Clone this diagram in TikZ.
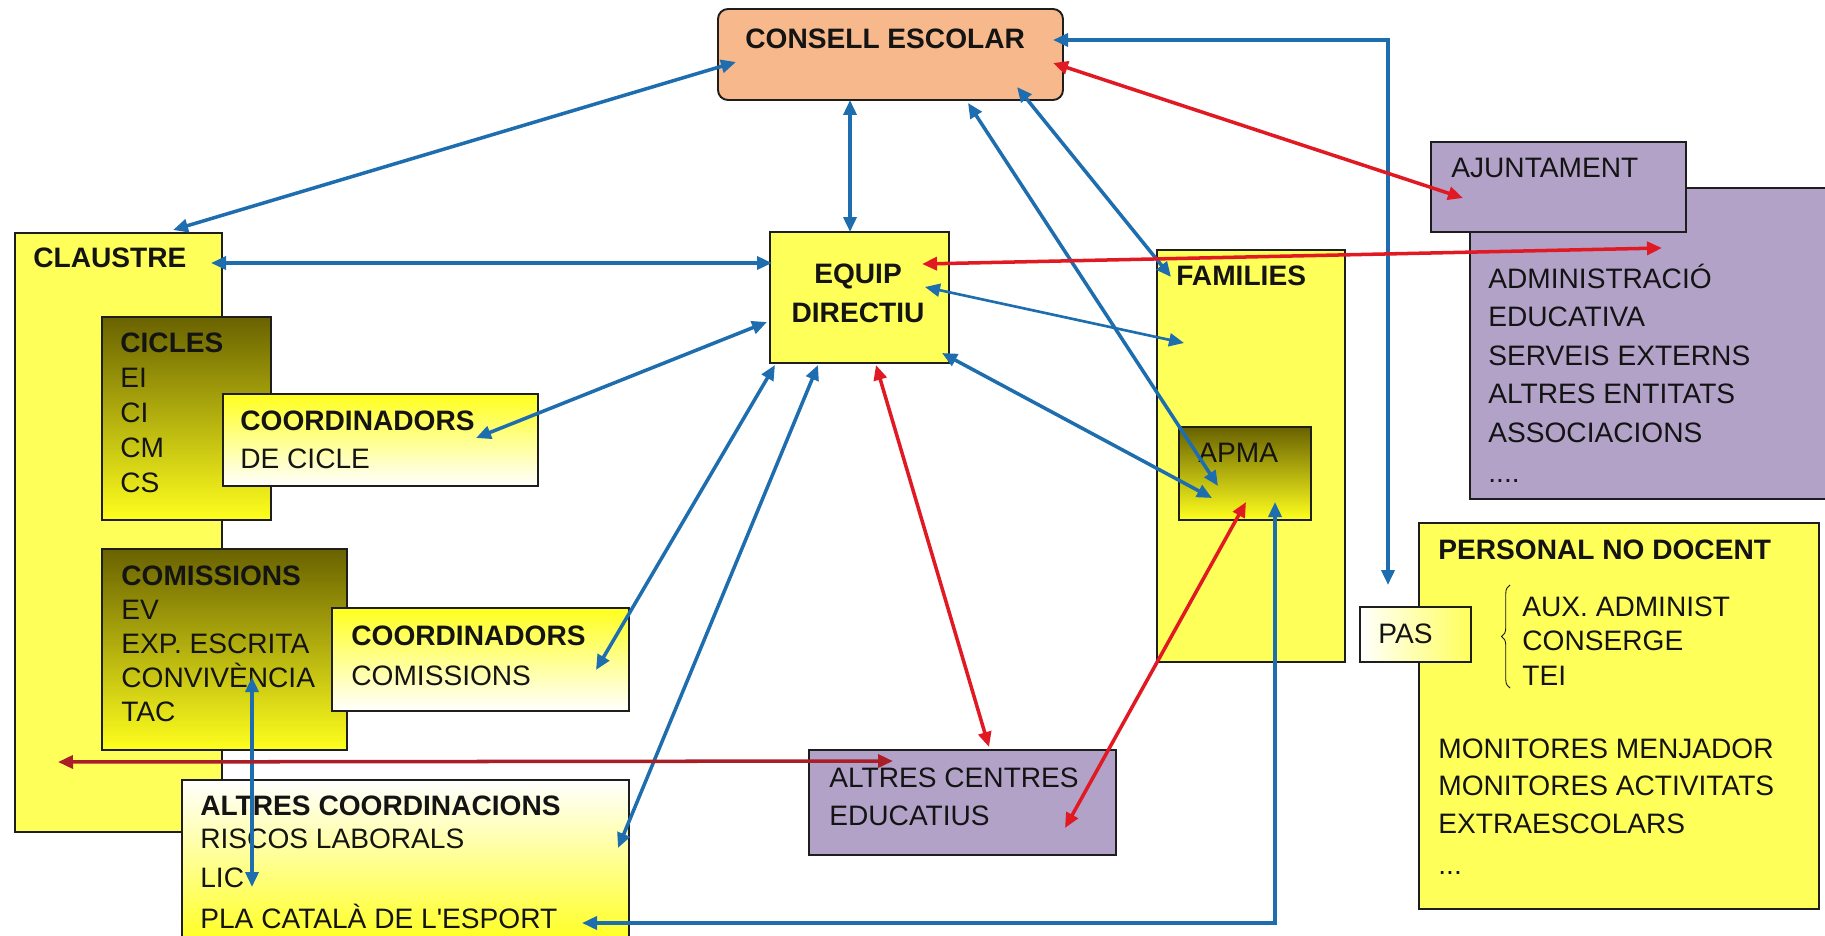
\documentclass[tikz,border=0pt]{standalone}
\usepackage{fontspec}
\setmainfont{Liberation Sans}
\usetikzlibrary{arrows.meta,fit,decorations.pathreplacing}
\definecolor{yel}{RGB}{255,255,90}
\definecolor{yelb}{RGB}{255,255,30}
\definecolor{olv}{RGB}{105,98,0}
\definecolor{lav}{RGB}{178,162,200}
\definecolor{salm}{RGB}{247,185,140}
\definecolor{bluec}{RGB}{30,110,175}
\definecolor{redc}{RGB}{225,25,35}
\definecolor{dredc}{RGB}{170,30,40}
\definecolor{edge}{RGB}{30,30,30}
\definecolor{ink}{RGB}{20,20,20}
\begin{document}
\begin{tikzpicture}[x=0.02cm,y=-0.02cm,
  box/.style={draw=edge, line width=1.1pt, inner sep=0pt, outer sep=0pt},
  txt/.style={inner sep=0pt, anchor=base west, text=ink, font=\fontsize{16}{19}\selectfont},
  btxt/.style={txt, font=\fontsize{16}{19}\selectfont\bfseries},
  blu/.style={draw=bluec, line width=2pt, <->, >={Triangle[length=0.3cm,width=0.26cm]}},
  rd/.style={draw=redc, line width=2pt, <->, >={Triangle[length=0.3cm,width=0.26cm]}},
]
\fill[white] (0,0) rectangle (1825,936);
\useasboundingbox (0,0) rectangle (1825,936);

% ---------- boxes ----------
\node[box, fill=yel, fit={(15,233) (222,832)}] (claustre) {};
\node[box, top color=olv, bottom color=yelb, fit={(102,317) (271,520)}] (cicles) {};
\node[box, top color=yelb, bottom color=white, fit={(223,394) (538,486)}] (coordcicle) {};
\node[box, top color=olv, bottom color=yelb, fit={(102,549) (347,750)}] (comissions) {};
\node[box, top color=yelb, bottom color=white, fit={(332,608) (629,711)}] (coordcom) {};
\node[box, top color=white, bottom color=yelb, fit={(182,780) (629,945)}] (altrescoord) {};
\node[box, fill=salm, rounded corners=0.2cm, fit={(718,9) (1063,100)}] (consell) {};
\node[box, fill=yel, fit={(770,232) (949,363)}] (equip) {};
\node[box, fill=yel, fit={(1157,250) (1345,662)}] (families) {};
\node[box, top color=olv, bottom color=yelb, fit={(1179,427) (1311,520)}] (apma) {};
\node[box, fill=lav, fit={(1470,188) (1840,499)}] (admin) {};
\node[box, fill=lav, fit={(1431,142) (1686,232)}] (ajuntament) {};
\node[box, fill=yel, fit={(1419,523) (1819,909)}] (personal) {};
\node[box, left color=white, right color=yel, fit={(1360,607) (1471,662)}] (pas) {};
\node[box, fill=lav, fit={(809,750) (1116,855)}] (altrescentres) {};

% ---------- texts ----------
\node[btxt] (t-consell) at (745,49) {CONSELL ESCOLAR};
\node[btxt, anchor=base] (t-equip1) at (858,283) {EQUIP};
\node[btxt, anchor=base] (t-equip2) at (858,322) {DIRECTIU};
\node[btxt] (t-claustre) at (33,267) {CLAUSTRE};
\node[btxt] (t-cicles) at (120,352) {CICLES};
\foreach \s [count=\i] in {EI,CI,CM,CS}
  \node[txt] (t-cic\i) at (120,{352+35*\i}) {\s};
\node[btxt] (t-cc1) at (240,430) {COORDINADORS};
\node[txt] (t-cc2) at (240,468) {DE CICLE};
\node[btxt] (t-com) at (121,585) {COMISSIONS};
\foreach \s [count=\i] in {EV,EXP. ESCRITA,CONVIVÈNCIA,TAC}
  \node[txt] (t-com\i) at (121,{585+34*\i}) {\s};
\node[btxt] (t-ccm1) at (351,645) {COORDINADORS};
\node[txt] (t-ccm2) at (351,685) {COMISSIONS};
\node[btxt] (t-ac) at (200,815) {ALTRES COORDINACIONS};
\node[txt] (t-ac1) at (200,848) {RISCOS LABORALS};
\node[txt] (t-ac2) at (200,887) {LIC};
\node[txt] (t-ac3) at (200,928) {PLA CATALÀ DE L\textquotesingle ESPORT};
\node[txt] (t-ace1) at (829,787) {ALTRES CENTRES};
\node[txt] (t-ace2) at (829,825) {EDUCATIUS};
\node[btxt] (t-fam) at (1176,285) {FAMILIES};
\node[txt] (t-apma) at (1198,462) {APMA};
\node[txt] (t-ajun) at (1451,177) {AJUNTAMENT};
\foreach \s [count=\i] in {ADMINISTRACIÓ,EDUCATIVA,SERVEIS EXTERNS,ALTRES ENTITATS,ASSOCIACIONS}
  \node[txt] (t-adm\i) at (1488,{288+38.5*(\i-1)}) {\s};
\node[txt] (t-adm6) at (1488,482) {....};
\node[btxt] (t-pers) at (1438,559) {PERSONAL NO DOCENT};
\foreach \s [count=\i] in {AUX. ADMINIST,CONSERGE,TEI}
  \node[txt] (t-aux\i) at (1522,{616+34.5*(\i-1)}) {\s};
\foreach \s [count=\i] in {MONITORES MENJADOR,MONITORES ACTIVITATS,EXTRAESCOLARS}
  \node[txt] (t-mon\i) at (1438,{758+37.5*(\i-1)}) {\s};
\node[txt] (t-pers4) at (1438,874) {...};
\node[txt] (t-pas) at (1378,643) {PAS};

% brace
\coordinate (br-b) at (1510,688);
\coordinate (br-t) at (1510,585);
\draw[decorate, decoration={brace, amplitude=0.17cm}, line width=0.5pt, draw=ink] (br-b) -- (br-t);

% ---------- connector end points ----------
\coordinate (cs-cl) at (736,62);   \coordinate (cl-cs) at (173,230);
\coordinate (cs-eq) at (850,100);  \coordinate (eq-cs) at (850,232);
\coordinate (cl-eq) at (211,263);  \coordinate (eq-cl) at (772,263);
\coordinate (eq-cc) at (767,322);  \coordinate (cc-eq) at (476,438);
\coordinate (eq-ccm) at (775,365); \coordinate (ccm-eq) at (596,670);
\coordinate (eq-ac) at (818,365);  \coordinate (ac-eq) at (618,848);
\coordinate (eq-fa) at (925,287);  \coordinate (fa-eq) at (1184,343);
\coordinate (eq-ap) at (942,353);  \coordinate (ap-eq) at (1212,498);
\coordinate (cs-ap) at (968,103);  \coordinate (ap-cs) at (1218,486);
\coordinate (cs-fa) at (1017,87);  \coordinate (fa-cs) at (1171,277);
\coordinate (cs-pas) at (1053,40); \coordinate (pas-turn) at (1388,40); \coordinate (pas-cs) at (1388,585);
\coordinate (ap-pla) at (1275,502); \coordinate (pla-turn) at (1275,923); \coordinate (pla-ap) at (582,923);
\coordinate (com-lic) at (252,677); \coordinate (lic-com) at (252,887);
\coordinate (cs-aj) at (1053,63);  \coordinate (aj-cs) at (1463,198);
\coordinate (eq-adm) at (922,264); \coordinate (adm-eq) at (1662,248);
\coordinate (eq-ace) at (876,365); \coordinate (ace-eq) at (989,747);
\coordinate (ap-ace) at (1246,502); \coordinate (ace-ap) at (1065,828);
\coordinate (cl-ace) at (58,762);  \coordinate (ace-cl) at (893,761);

% ---------- blue connectors ----------
\draw[blu] (cs-cl) -- (cl-cs);
\draw[blu] (cs-eq) -- (eq-cs);
\draw[blu] (cl-eq) -- (eq-cl);
\draw[blu] (eq-cc) -- (cc-eq);
\draw[blu] (eq-ccm) -- (ccm-eq);
\draw[blu] (eq-ac) -- (ac-eq);
\draw[blu, line width=1.5pt] (eq-fa) -- (fa-eq);
\draw[blu] (eq-ap) -- (ap-eq);
\draw[blu] (cs-ap) -- (ap-cs);
\draw[blu] (cs-fa) -- (fa-cs);
\draw[blu] (cs-pas) -- (pas-turn) -- (pas-cs);
\draw[blu] (ap-pla) -- (pla-turn) -- (pla-ap);
\draw[blu] (com-lic) -- (lic-com);

% ---------- red connectors ----------
\draw[rd] (cs-aj) -- (aj-cs);
\draw[rd] (eq-adm) -- (adm-eq);
\draw[rd] (eq-ace) -- (ace-eq);
\draw[rd] (ap-ace) -- (ace-ap);
\draw[rd, draw=dredc] (cl-ace) -- (ace-cl);
\end{tikzpicture}
\end{document}
